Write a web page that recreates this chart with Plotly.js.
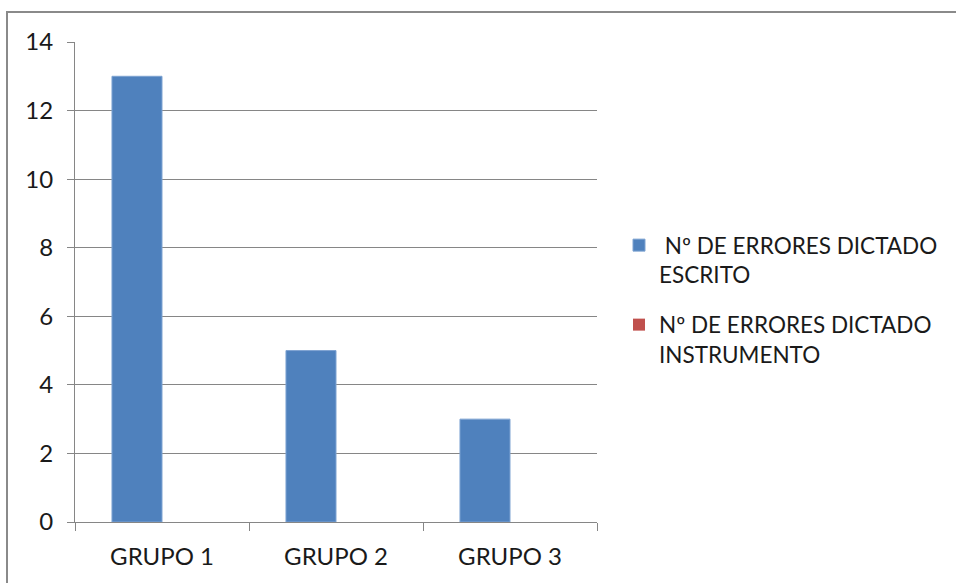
<!DOCTYPE html>
<html>
<head>
<meta charset="utf-8">
<script src="https://cdn.plot.ly/plotly-3.0.1.min.js"></script>
<style>
  html, body { margin: 0; padding: 0; background: #ffffff; }
  #chart { width: 956px; height: 583px; }
</style>
</head>
<body>
<div id="chart"></div>
<script>
// Error counts per group for the two dictation tests
const grupos = ["GRUPO 1", "GRUPO 2", "GRUPO 3"];
const erroresEscrito = [13, 5, 3];
const erroresInstrumento = [0, 0, 0];
const nombreEscrito = "\u00a0Nº DE ERRORES DICTADO<br>ESCRITO";
const nombreInstrumento = "Nº DE ERRORES DICTADO<br>INSTRUMENTO";
const yTicks = [0, 2, 4, 6, 8, 10, 12, 14];

const FONT = "Lato, 'Liberation Sans', Arial, sans-serif";
const GRID = "#868686";
const INK = "#1a1a1a";

const traces = [
  {
    type: "bar",
    name: nombreEscrito,
    x: grupos,
    y: erroresEscrito,
    marker: { color: "#4F81BD", line: { color: "#7EA3D2", width: 1 } },
    legendgroup: "a",
    hoverinfo: "x+y"
  },
  {
    type: "bar",
    name: nombreInstrumento,
    x: grupos,
    y: erroresInstrumento,
    marker: { color: "#C0504D", line: { width: 0 } },
    legendgroup: "b",
    hoverinfo: "x+y"
  }
];

// plot area spans 75..597 px horizontally and 42..522 px vertically
const L = 75, R = 597, T = 42, B = 522;
const px = v => (v - L) / (R - L);
const py = v => (B - v) / (B - T);

const layout = {
  width: 956,
  height: 583,
  margin: { l: L, r: 956 - R, t: T, b: 583 - B, pad: 0, autoexpand: false },
  paper_bgcolor: "#ffffff",
  plot_bgcolor: "#ffffff",
  font: { family: FONT, size: 24, color: INK },
  barmode: "group",
  bargap: 0.425,
  bargroupgap: 0,
  showlegend: true,
  legend: {
    x: px(619), y: py(224), xanchor: "left", yanchor: "top",
    valign: "top",
    font: { family: FONT, size: 22.5, color: INK },
    tracegroupgap: 18,
    bgcolor: "rgba(0,0,0,0)"
  },
  xaxis: {
    type: "category",
    showgrid: false,
    showline: true,
    linecolor: GRID,
    linewidth: 1,
    ticks: "outside",
    tickson: "boundaries",
    ticklen: 8,
    tickcolor: GRID,
    tickfont: { family: FONT, size: 24, color: INK },
    ticklabelstandoff: 13,
    zeroline: false,
    fixedrange: true
  },
  yaxis: {
    range: [0, 14],
    tickvals: yTicks,
    ticktext: yTicks.map(String),
    showgrid: true,
    gridcolor: GRID,
    gridwidth: 1,
    showline: true,
    linecolor: GRID,
    linewidth: 1,
    ticks: "outside",
    ticklen: 7,
    tickcolor: GRID,
    tickfont: { family: FONT, size: 24, color: INK },
    ticklabelstandoff: 9,
    zeroline: false,
    fixedrange: true
  },
  shapes: [
    {
      // chart frame, running past the right and bottom edges of the page
      type: "rect", xref: "paper", yref: "paper",
      x0: px(7), y0: py(600), x1: px(970), y1: py(12),
      line: { color: "#8a8a8a", width: 2 },
      fillcolor: "rgba(0,0,0,0)",
      layer: "above"
    }
  ]
};

Plotly.newPlot("chart", traces, layout, { displayModeBar: false, staticPlot: true });
</script>
</body>
</html>
